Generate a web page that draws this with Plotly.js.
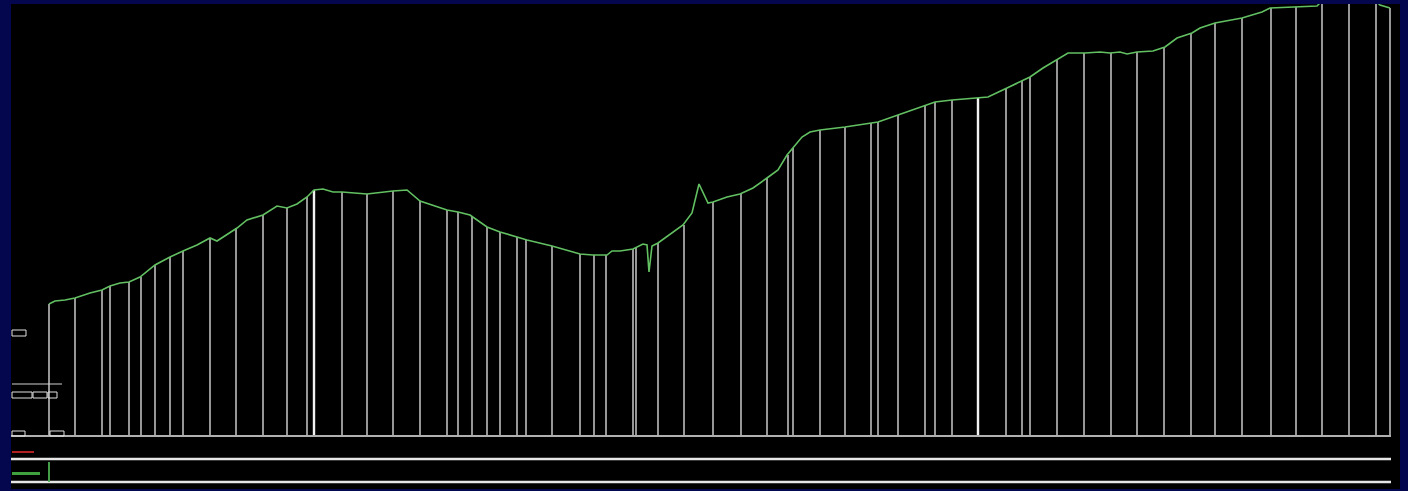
<!DOCTYPE html>
<html>
<head>
<meta charset="utf-8">
<script src="https://cdn.plot.ly/plotly-3.0.1.min.js"></script>
<style>html,body{margin:0;padding:0;background:#05074e;}#chart{width:1408px;height:491px;}</style>
</head>
<body>
<div id="chart"></div>
<script>
// Terrain profile: distance along route vs elevation (picture units)
const profileDist = [0,6,16,26,41,53,61,71,80,91,106,121,134,148,161,168,188,198,214,228,238,248,258,265,274,284,293,318,344,358,371,398,409,421,438,451,468,478,503,514,531,544,558,563,571,584,594,598,600,603,609,634,643,650,654,659,664,678,691,704,718,729,738,744,753,761,771,796,821,829,849,876,886,903,929,939,958,973,981,994,1008,1019,1036,1051,1061,1071,1078,1088,1104,1116,1128,1143,1151,1166,1193,1213,1221,1248,1268,1273,1286,1301,1326,1331,1341];
const profileElev = [132,135,136,138,143,146,150,153,154,159,171,179,185,191,198,195,208,216,221,230,228,232,239,246,247,244,244,242,245,246,235,226,224,221,209,204,199,196,190,187,182,181,181,185,185,187,192,191,164,190,193,211,223,252,244,233,234,239,242,248,258,266,281,288,299,304,306,309,313,314,321,331,334,336,338,339,348,355,359,368,376,383,383,384,383,384,382,384,385,389,398,403,408,413,418,424,428,429,430,435,438,439,436,431,428];

// Survey stations (vertical drop lines)
const stationDist = [0,26,53,61,80,92,106,121,134,161,187,214,238,258,293,318,344,371,398,409,423,438,451,468,477,503,531,545,557,584,587,609,635,664,692,718,739,744,771,796,822,829,849,876,886,903,957,973,981,1008,1035,1062,1088,1115,1142,1166,1193,1222,1247,1273,1300,1327,1341];
const stationElev = [132,138,146,150,154,159,171,179,185,198,208,221,228,239,244,242,245,235,226,224,220,209,204,199,196,190,182,181,181,187,188,193,211,234,242,258,281,288,306,309,313,314,321,331,334,336,348,355,359,376,383,383,384,389,403,413,418,428,429,433,439,436,428];
// Highlighted stations
const keyDist = [265,929];
const keyElev = [246,338];

// Lower band lines (elevation units of the picture)
const bandLevels = [-23,-46];

function dropLines(d, e){
  const xs=[], ys=[];
  for(let i=0;i<d.length;i++){ xs.push(d[i],d[i],null); ys.push(0,e[i],null); }
  return {xs, ys};
}
const st = dropLines(stationDist, stationElev);
const ks = dropLines(keyDist, keyElev);

const traces = [
  {x: st.xs, y: st.ys, type:'scatter', mode:'lines', line:{color:'#bdbdbd', width:1.6}, hoverinfo:'skip', showlegend:false},
  {x: ks.xs, y: ks.ys, type:'scatter', mode:'lines', line:{color:'#f2f2f2', width:2.4}, hoverinfo:'skip', showlegend:false},
  {x: [-38,1342], y:[0,0], type:'scatter', mode:'lines', line:{color:'#b0b0b0', width:1.8}, hoverinfo:'skip', showlegend:false},
  {x: [-38,1342,null,-38,1342], y:[bandLevels[0],bandLevels[0],null,bandLevels[1],bandLevels[1]], type:'scatter', mode:'lines', line:{color:'#e6e6e6', width:2.6}, hoverinfo:'skip', showlegend:false},
  {x: [0,0], y:[-26,-46], type:'scatter', mode:'lines', line:{color:'#4caf50', width:1.8}, hoverinfo:'skip', showlegend:false},
  {x: profileDist, y: profileElev, type:'scatter', mode:'lines', line:{color:'#62c062', width:1.6}, hoverinfo:'skip', showlegend:false}
];

const box = (x0,x1,y0,y1)=>({type:'rect', xref:'x', yref:'y', x0, x1, y0, y1, line:{color:'#e0e0e0', width:1}, fillcolor:'rgba(0,0,0,0)'});
const shapes = [
  box(-37,-23,100,106),
  {type:'line', xref:'x', yref:'y', x0:-37, x1:13, y0:52, y1:52, line:{color:'#d0d0d0', width:1}},
  box(-37,-17,38,44), box(-16,-2,38,44), box(-1,8,38,44),
  box(-37,-24,0,5), box(1,15,0,5),
  {type:'rect', xref:'x', yref:'y', x0:-37, x1:-15, y0:-17, y1:-15, line:{width:0}, fillcolor:'#b02020'},
  {type:'rect', xref:'x', yref:'y', x0:-37, x1:-9, y0:-39, y1:-36, line:{width:0}, fillcolor:'#3fa03f'}
];

const layout = {
  width:1408, height:491,
  paper_bgcolor:'#05074e', plot_bgcolor:'#000000',
  margin:{l:11, r:8, t:4, b:2},
  xaxis:{range:[-38,1351], visible:false, showgrid:false, zeroline:false, fixedrange:true},
  yaxis:{range:[-53,432], visible:false, showgrid:false, zeroline:false, fixedrange:true},
  shapes: shapes,
  showlegend:false
};
Plotly.newPlot('chart', traces, layout, {displayModeBar:false, staticPlot:true});
</script>
</body>
</html>
